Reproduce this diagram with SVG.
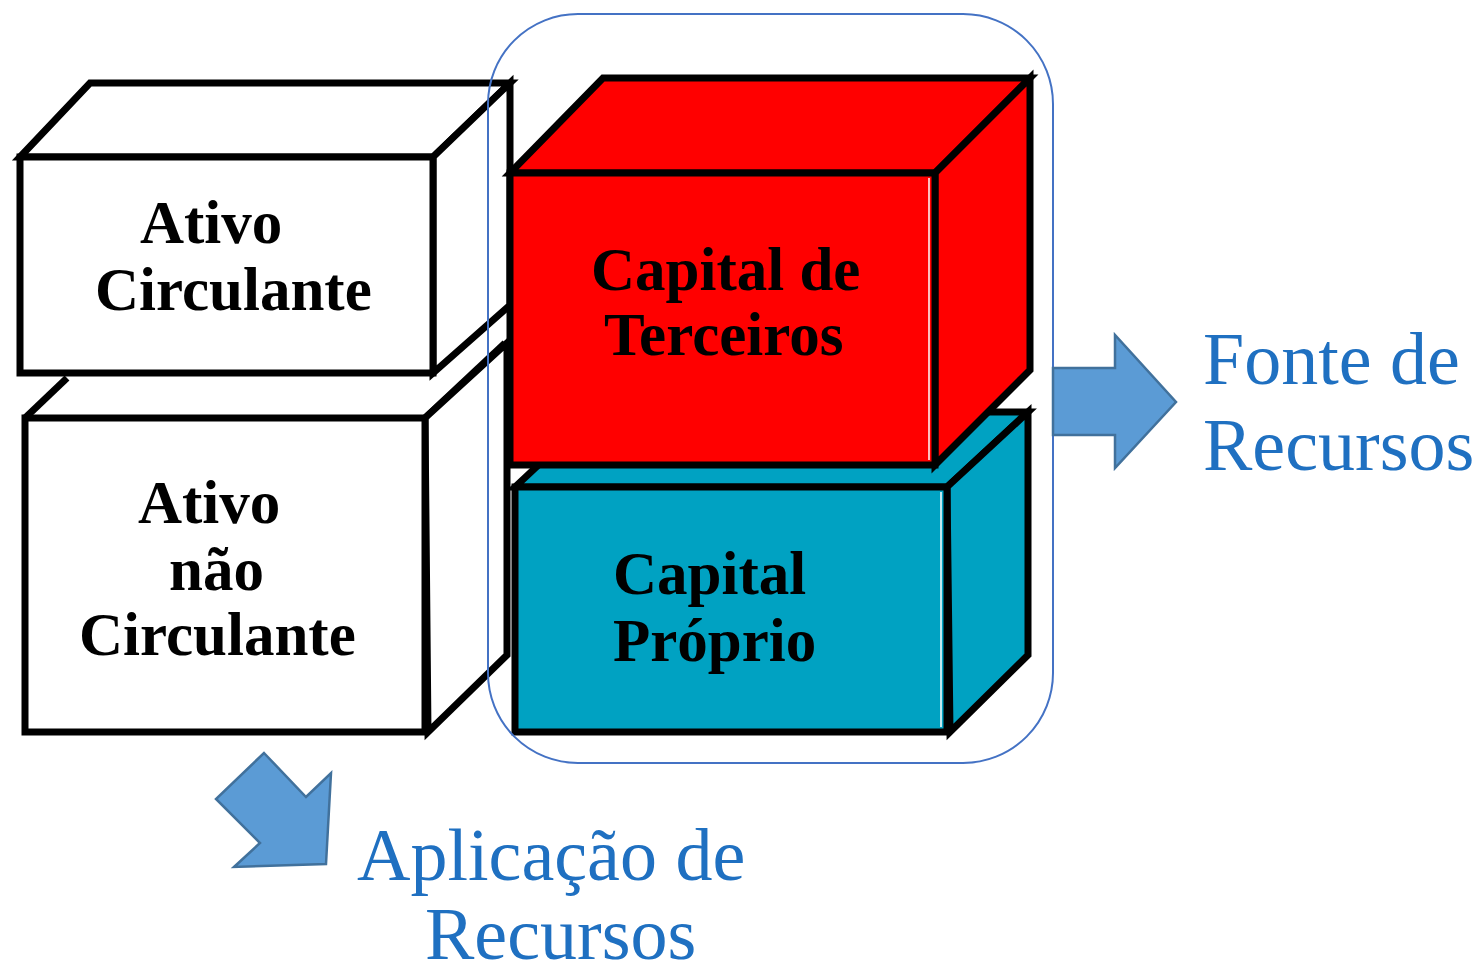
<svg xmlns="http://www.w3.org/2000/svg" width="1480" height="975" viewBox="0 0 1480 975">
<style>
.edge{stroke:#000;stroke-width:7;stroke-linejoin:miter}
.ln{stroke:#000;stroke-width:7;fill:none}
.lbl{font-family:"Liberation Serif","Times New Roman",serif;font-weight:bold;font-size:61px;fill:#000}
.blue{font-family:"Liberation Serif","Times New Roman",serif;font-size:74px;fill:#1F70C1}
.arrow{fill:#5B9BD5;stroke:#41719C;stroke-width:2.5;stroke-linejoin:miter}
</style>
<rect width="1480" height="975" fill="#fff"/>
<g id="ativo-nao-circulante">
<polygon fill="#fff" points="25,418 67,378 505,343 425,418"/>
<line class="ln" x1="25" y1="418" x2="67" y2="378"/>
<line class="ln" x1="425" y1="418" x2="505" y2="343"/>
<polygon class="edge" fill="#fff" points="425,418 507,343 507,655 428,732"/>
<rect class="edge" fill="#fff" x="25" y="418" width="400" height="314"/>
<text class="lbl" x="138" y="523">Ativo</text>
<text class="lbl" x="169" y="590">não</text>
<text class="lbl" x="79" y="655">Circulante</text>
</g>
<g id="ativo-circulante">
<polygon class="edge" fill="#fff" points="20,157 90,83 510,83 433,157"/>
<polygon class="edge" fill="#fff" points="433,157 510,83 510,305 433,373"/>
<rect class="edge" fill="#fff" x="20" y="157" width="413" height="216"/>
<text class="lbl" x="140" y="243">Ativo</text>
<text class="lbl" x="95" y="310">Circulante</text>
</g>
<g id="capital-proprio">
<polygon class="edge" fill="#00A2C2" points="515,487 595,412 1028,412 947,487"/>
<polygon class="edge" fill="#00A2C2" points="947,487 1028,412 1028,655 950,732"/>
<rect class="edge" fill="#00A2C2" x="515" y="487" width="432" height="245"/>
<line x1="941" y1="492" x2="941" y2="727" stroke="#fff" stroke-width="1.5"/>
<text class="lbl" x="613" y="594">Capital</text>
<text class="lbl" x="613" y="661">Próprio</text>
</g>
<g id="capital-de-terceiros">
<polygon class="edge" fill="#FF0000" points="510,173 603,78 1030,78 935,173"/>
<polygon class="edge" fill="#FF0000" points="935,173 1030,78 1030,370 935,465"/>
<rect class="edge" fill="#FF0000" x="510" y="173" width="425" height="292"/>
<line x1="929" y1="178" x2="929" y2="460" stroke="#fff" stroke-width="1.5"/>
<text class="lbl" x="591" y="290">Capital de</text>
<text class="lbl" x="604" y="355">Terceiros</text>
</g>
<g id="grupo-fontes">
<rect x="488" y="14" width="565" height="749" rx="90" ry="90" fill="none" stroke="#4472C4" stroke-width="2"/>
</g>
<g id="connectors">
<polygon class="arrow" points="1053,368 1115,368 1115,335 1176,402 1115,468 1115,435 1053,435"/>
<polygon class="arrow" points="264,753 306,797 331,773 326,864 234,867 260,843 216,799"/>
</g>
<g id="fonte-de-recursos">
<text class="blue" x="1203" y="384">Fonte de</text>
<text class="blue" x="1203" y="470">Recursos</text>
</g>
<g id="aplicacao-de-recursos">
<text class="blue" x="357" y="880">Aplicação de</text>
<text class="blue" x="425" y="959">Recursos</text>
</g>
</svg>
